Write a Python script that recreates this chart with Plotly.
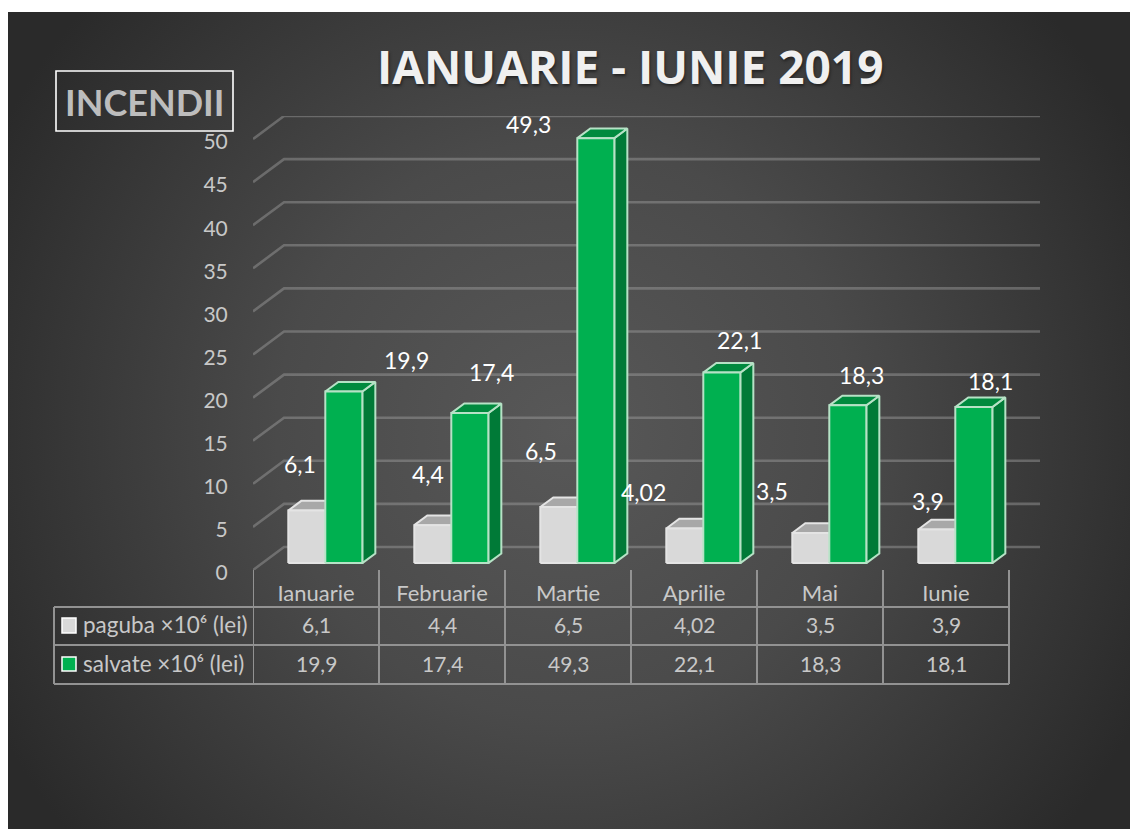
import base64
import plotly.graph_objects as go

months = ["Ianuarie", "Februarie", "Martie", "Aprilie", "Mai", "Iunie"]
paguba = [6.1, 4.4, 6.5, 4.02, 3.5, 3.9]
salvate = [19.9, 17.4, 49.3, 22.1, 18.3, 18.1]
paguba_text = ["6,1", "4,4", "6,5", "4,02", "3,5", "3,9"]
salvate_text = ["19,9", "17,4", "49,3", "22,1", "18,3", "18,1"]
y_ticks = [0, 5, 10, 15, 20, 25, 30, 35, 40, 45, 50]
paguba_name = "paguba ×10⁶ (lei)"
salvate_name = "salvate ×10⁶ (lei)"
title_text = "IANUARIE - IUNIE 2019"
box_text = "INCENDII"

# manual label displacements in the reference (px)
paguba_shift_x = [-6.5, -4.5, -17.5, -41.5, -38.5, -8.5]
paguba_shift_y = [47, 51, 56, 36, 42, 28]
salvate_shift_x = [62.5, 21.5, -67.5, 17.5, 13.5, 16.5]
salvate_shift_y = [31.5, 41, 14, 32.5, 30, 26]

W, H = 1130, 829
PL, PR, PT, PB = 253, 1040, 116, 570   # plot area in pixels
WALL_DX = 31 / 126      # oblique projection, x-units per full depth
WALL_DV = 23 / 8.62     # value-units per full depth
BAR_D0, BAR_D1 = 0.30, 0.72
BAR_W = 0.2937
X_MAX = 6 + WALL_DX
Y_MAX = (PB - PT) / 8.62

def project(x, v, d):
    return x + d * WALL_DX, v + d * WALL_DV

def px(x):
    return (x - PL) / (PR - PL)

def py(y):
    return (PB - y) / (PB - PT)

def polys(faces):
    xs, ys = [], []
    for face in faces:
        for x, v, d in face:
            a, b = project(x, v, d)
            xs.append(a); ys.append(b)
        a, b = project(*face[0])
        xs.append(a); ys.append(b)
        xs.append(None); ys.append(None)
    return xs, ys

def bar_faces(values, left_offset):
    front, top, side = [], [], []
    for i, v in enumerate(values):
        x0 = i + 0.5 + left_offset
        x1 = x0 + BAR_W
        front.append([(x0, 0, BAR_D0), (x1, 0, BAR_D0), (x1, v, BAR_D0), (x0, v, BAR_D0)])
        top.append([(x0, v, BAR_D0), (x1, v, BAR_D0), (x1, v, BAR_D1), (x0, v, BAR_D1)])
        side.append([(x1, 0, BAR_D0), (x1, 0, BAR_D1), (x1, v, BAR_D1), (x1, v, BAR_D0)])
    return front, top, side

fig = go.Figure()

# gridlines: back wall + left wall
gx, gy = [], []
for v in y_ticks:
    for x, d in [(0, 0), (0, 1), (6, 1)]:
        a, b = project(x, v, d)
        gx.append(a); gy.append(b)
    gx.append(None); gy.append(None)
fig.add_trace(go.Scatter(x=gx, y=gy, mode="lines", hoverinfo="skip", showlegend=False,
                         line=dict(color="rgba(160,160,160,0.45)", width=2.6)))

def add_series(values, left_offset, name, c_front, c_top, c_side, c_edge):
    front, top, side = bar_faces(values, left_offset)
    for faces, col, nm in [(side, c_side, "side"), (top, c_top, "top"), (front, c_front, name)]:
        xs, ys = polys(faces)
        fig.add_trace(go.Scatter(x=xs, y=ys, mode="lines", fill="toself", fillcolor=col,
                                 line=dict(color=c_edge, width=2), name=nm,
                                 showlegend=False, hoverinfo="skip"))

add_series(paguba, -BAR_W, paguba_name, "#d9d9d9", "#a8a8a8", "#a0a0a0", "#e4e4e4")
add_series(salvate, 0, salvate_name, "#00b050", "#008a3e", "#007a37", "#b6e2c6")

annotations = []
for i in range(6):
    for vals, txt, sx, sy, off in [
        (paguba, paguba_text, paguba_shift_x, paguba_shift_y, -BAR_W / 2),
        (salvate, salvate_text, salvate_shift_x, salvate_shift_y, BAR_W / 2),
    ]:
        a, b = project(i + 0.5 + off, vals[i], BAR_D0)
        annotations.append(dict(x=a, y=b, xref="x", yref="y", text=txt[i], showarrow=False,
                                xshift=sx[i], yshift=sy[i], xanchor="center", yanchor="middle",
                                font=dict(family="Lato", size=23, color="#ffffff")))

# data table
TXT = "#c8c8c8"
ROW_Y = [607, 645, 684]
shapes = []
line = dict(color="#929292", width=2)
for i in range(7):
    shapes.append(dict(type="line", xref="x", yref="paper", x0=i, x1=i,
                       y0=py(570), y1=py(ROW_Y[-1]), line=line))
for ry in ROW_Y:
    shapes.append(dict(type="line", xref="paper", yref="paper",
                       x0=px(54), x1=px(1009), y0=py(ry), y1=py(ry), line=line))
shapes.append(dict(type="line", xref="paper", yref="paper", x0=px(54), x1=px(54),
                   y0=py(ROW_Y[0]), y1=py(ROW_Y[-1]), line=line))
for (ry0, ry1), col in zip([(618, 633), (657, 671)], ["#d9d9d9", "#00b050"]):
    shapes.append(dict(type="rect", xref="paper", yref="paper", x0=px(62), x1=px(76),
                       y0=py(ry0), y1=py(ry1), fillcolor=col, line=dict(color="#ffffff", width=1.5)))
for r, (name, txt) in enumerate([(paguba_name, paguba_text), (salvate_name, salvate_text)]):
    yc = py((ROW_Y[r] + ROW_Y[r + 1]) / 2 - 1.5)
    annotations.append(dict(x=px(81), y=yc, xref="paper", yref="paper", text=name, showarrow=False,
                            xanchor="left", yanchor="middle",
                            font=dict(family="Lato", size=22.5, color=TXT)))
    for i in range(6):
        annotations.append(dict(x=i + 0.5, y=yc, xref="x", yref="paper", text=txt[i], showarrow=False,
                                xanchor="center", yanchor="middle",
                                font=dict(family="Lato", size=21, color=TXT)))

# title and boxed label
annotations.append(dict(x=px(630), y=py(66), xref="paper", yref="paper", text=f"<b>{title_text}</b>",
                        showarrow=False, xanchor="center", yanchor="middle",
                        font=dict(family="Open Sans", size=46, color="#f0f0f0",
                                  shadow="1px 2px 3px #222222")))
annotations.append(dict(x=px(144), y=py(102), xref="paper", yref="paper", text=f"<b>{box_text}</b>",
                        showarrow=False, xanchor="center", yanchor="middle",
                        font=dict(family="Lato", size=36, color="#bdbdbd")))
shapes.append(dict(type="rect", xref="paper", yref="paper", x0=px(56), x1=px(233),
                   y0=py(71), y1=py(131), line=dict(color="#ffffff", width=1.6)))

# panel background: radial gradient
svg = f"""<svg xmlns="http://www.w3.org/2000/svg" width="{W-8}" height="{H-12}">
<defs><radialGradient id="g" gradientUnits="userSpaceOnUse" cx="{565-8}" cy="{430-12}" r="640">
<stop offset="0" stop-color="#585858"/><stop offset="0.45" stop-color="#4a4a4a"/>
<stop offset="1" stop-color="#2a2a2a"/></radialGradient></defs>
<rect width="100%" height="100%" fill="url(#g)"/></svg>"""
src = "data:image/svg+xml;base64," + base64.b64encode(svg.encode()).decode()

fig.update_layout(
    width=W, height=H, autosize=False,
    margin=dict(l=PL, r=W - PR, t=PT, b=H - PB, pad=0),
    paper_bgcolor="#ffffff", plot_bgcolor="rgba(0,0,0,0)",
    showlegend=False, shapes=shapes, annotations=annotations,
    images=[dict(source=src, xref="paper", yref="paper", x=px(8), y=py(12),
                 sizex=px(W) - px(8), sizey=py(12) - py(H), sizing="stretch",
                 xanchor="left", yanchor="top", layer="below")],
    xaxis=dict(range=[0, X_MAX], tickvals=[i + 0.5 for i in range(6)], ticktext=months,
               showgrid=False, zeroline=False, showline=False, ticks="outside", ticklen=4,
               tickcolor="rgba(0,0,0,0)", tickfont=dict(family="Lato", size=22, color=TXT)),
    yaxis=dict(range=[0, Y_MAX], tickvals=y_ticks, showgrid=False, zeroline=False, showline=False,
               ticks="outside", ticklen=20, tickcolor="rgba(0,0,0,0)", ticklabelshift=3,
               tickfont=dict(family="Lato", size=21, color=TXT)),
)
fig.write_html("out.html", config={"displayModeBar": False},
               post_script="document.body.style.margin='0';document.documentElement.style.overflow='hidden';")
